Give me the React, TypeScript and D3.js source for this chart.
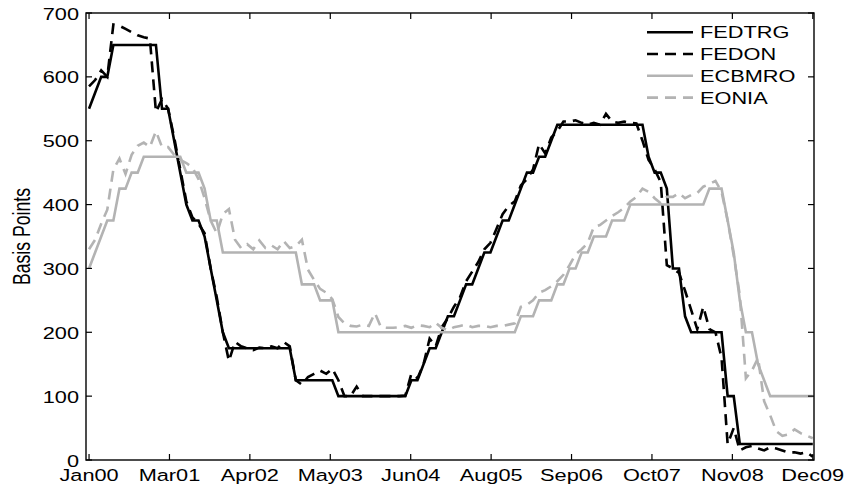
import React from 'react';
import * as d3 from 'd3';

// Monthly end-of-month values, Jan 2000 .. Dec 2009 (basis points)
const FEDTRG = [
  550, 575, 600, 600, 650, 650, 650, 650, 650, 650, 650, 650,
  550, 550, 500, 450, 400, 375, 375, 350, 300, 250, 200, 175,
  175, 175, 175, 175, 175, 175, 175, 175, 175, 175, 125, 125,
  125, 125, 125, 125, 125, 100, 100, 100, 100, 100, 100, 100,
  100, 100, 100, 100, 100, 125, 125, 150, 175, 175, 200, 225,
  225, 250, 275, 275, 300, 325, 325, 350, 375, 375, 400, 425,
  450, 450, 475, 475, 500, 525, 525, 525, 525, 525, 525, 525,
  525, 525, 525, 525, 525, 525, 525, 525, 475, 450, 450, 425,
  300, 300, 225, 200, 200, 200, 200, 200, 200, 100, 100, 25,
  25, 25, 25, 25, 25, 25, 25, 25, 25, 25, 25, 25,
];

const FEDON = [
  585, 595, 610, 600, 682, 680, 675, 670, 665, 662, 660, 545,
  565, 550, 505, 455, 405, 380, 370, 355, 300, 255, 200, 155,
  185, 178, 175, 172, 176, 175, 178, 175, 185, 178, 125, 118,
  130, 135, 140, 135, 143, 125, 100, 100, 115, 100, 100, 100,
  100, 100, 100, 100, 101, 135, 128, 150, 190, 178, 208, 222,
  240, 255, 280, 295, 310, 330, 340, 362, 385, 398, 405, 430,
  440, 455, 495, 480, 505, 515, 530, 530, 532, 528, 525, 528,
  525, 542, 530, 528, 530, 528, 527, 500, 470, 455, 435, 305,
  300, 293, 265, 235, 205, 240, 205, 200, 160, 25, 50, 15,
  20, 22, 18, 15, 20, 18, 15, 12, 12, 10, 12, 5,
];

const ECBMRO = [
  300, 325, 350, 375, 375, 425, 425, 450, 450, 475, 475, 475,
  475, 475, 475, 475, 450, 450, 450, 425, 375, 375, 325, 325,
  325, 325, 325, 325, 325, 325, 325, 325, 325, 325, 325, 275,
  275, 275, 250, 250, 250, 200, 200, 200, 200, 200, 200, 200,
  200, 200, 200, 200, 200, 200, 200, 200, 200, 200, 200, 200,
  200, 200, 200, 200, 200, 200, 200, 200, 200, 200, 200, 225,
  225, 225, 250, 250, 250, 275, 275, 300, 300, 325, 325, 350,
  350, 350, 375, 375, 375, 400, 400, 400, 400, 400, 400, 400,
  400, 400, 400, 400, 400, 400, 425, 425, 425, 375, 325, 250,
  200, 200, 150, 125, 100, 100, 100, 100, 100, 100, 100, 100,
];

const EONIA = [
  330, 345, 370, 392, 455, 472, 448, 478, 492, 497, 490, 515,
  490, 490, 478, 470, 465, 458, 440, 410, 375, 355, 385, 393,
  345, 332, 338, 330, 344, 332, 336, 330, 343, 332, 335, 345,
  298, 282, 268, 262, 252, 224, 214, 210, 209, 212, 210, 230,
  208, 207, 207, 208, 210, 207, 211, 210, 208, 215, 207, 203,
  208, 210, 212, 208, 210, 210, 208, 210, 210, 212, 214, 240,
  243, 250, 262, 266, 272, 280, 290, 305, 322, 330, 340, 365,
  368, 375, 382, 388, 395, 405, 412, 425, 420, 410, 402, 412,
  412, 418, 410, 415, 418, 428, 432, 437, 420, 375, 320, 258,
  128, 140, 160, 92, 70, 45, 38, 40, 48, 42, 38, 34,
];

const X_TICK_LABELS = ['Jan00', 'Mar01', 'Apr02', 'May03', 'Jun04', 'Aug05', 'Sep06', 'Oct07', 'Nov08', 'Dec09'];
const Y_TICKS = [0, 100, 200, 300, 400, 500, 600, 700];
const SERIES_NAMES = ['FEDTRG', 'FEDON', 'ECBMRO', 'EONIA'];

const FONT = '"Liberation Sans", Arial, Helvetica, sans-serif';
const SX = 1.45;
const SY = 1.07;

export default function App() {
  const L = 86, R = 814, T = 13, B = 460;
  const x = d3.scaleLinear().domain([-0.5, 119.2]).range([L, R]);
  const y = d3.scaleLinear().domain([0, 700]).range([B, T]);
  const line = d3.line<number>().x((_, i) => x(i)).y((d) => y(d));

  const seriesData = [FEDTRG, FEDON, ECBMRO, EONIA];
  const styles = [
    { stroke: '#000', dash: undefined },
    { stroke: '#000', dash: '11,7' },
    { stroke: '#b3b3b3', dash: undefined },
    { stroke: '#b3b3b3', dash: '11,7' },
  ];

  const xTickVals = X_TICK_LABELS.map((_, k) => (k * 119) / 9);
  const tickLen = 6;

  return (
    <svg
      width={850}
      height={490}
      style={{ position: 'absolute', left: 0, top: 0, background: '#fff' }}
      fontFamily={FONT}
    >
      <rect x={0} y={0} width={850} height={490} fill="#fff" />
      {/* series */}
      {seriesData.map((s, i) => (
        <path
          key={SERIES_NAMES[i]}
          d={line(s) || ''}
          fill="none"
          stroke={styles[i].stroke}
          strokeWidth={2.6}
          strokeDasharray={styles[i].dash}
        />
      ))}
      {/* axes box */}
      <rect x={L} y={T} width={R - L} height={B - T} fill="none" stroke="#000" strokeWidth={1.4} />
      {/* y ticks */}
      {Y_TICKS.map((v) => (
        <g key={'y' + v}>
          <line x1={L} x2={L + tickLen} y1={y(v)} y2={y(v)} stroke="#000" strokeWidth={1.2} />
          <line x1={R} x2={R - tickLen} y1={y(v)} y2={y(v)} stroke="#000" strokeWidth={1.2} />
          <text
            transform={`translate(${L - 7},${y(v) + 6.5}) scale(${SX},${SY})`}
            textAnchor="end"
            fontSize={15}
            fill="#000"
          >
            {v}
          </text>
        </g>
      ))}
      {/* x ticks */}
      {xTickVals.map((v, k) => (
        <g key={'x' + k}>
          <line x1={x(v)} x2={x(v)} y1={B} y2={B - tickLen} stroke="#000" strokeWidth={1.2} />
          <line x1={x(v)} x2={x(v)} y1={T} y2={T + tickLen} stroke="#000" strokeWidth={1.2} />
          <text
            transform={`translate(${x(v)},${481}) scale(${SX},${SY})`}
            textAnchor="middle"
            fontSize={15}
            fill="#000"
          >
            {X_TICK_LABELS[k]}
          </text>
        </g>
      ))}
      {/* y label */}
      <text
        transform={`translate(30,${(T + B) / 2}) rotate(-90) scale(${SY},${SX})`}
        textAnchor="middle"
        fontSize={16.5}
        fill="#000"
      >
        Basis Points
      </text>
      {/* legend */}
      {SERIES_NAMES.map((name, i) => {
        const ly = 32.2 + i * 21.8;
        return (
          <g key={'lg' + name}>
            <line
              x1={647}
              x2={693}
              y1={ly}
              y2={ly}
              stroke={styles[i].stroke}
              strokeWidth={2.6}
              strokeDasharray={styles[i].dash}
            />
            <text
              transform={`translate(700,${ly + 6}) scale(${SX},${SY})`}
              textAnchor="start"
              fontSize={15}
              fill="#000"
            >
              {name}
            </text>
          </g>
        );
      })}
    </svg>
  );
}
